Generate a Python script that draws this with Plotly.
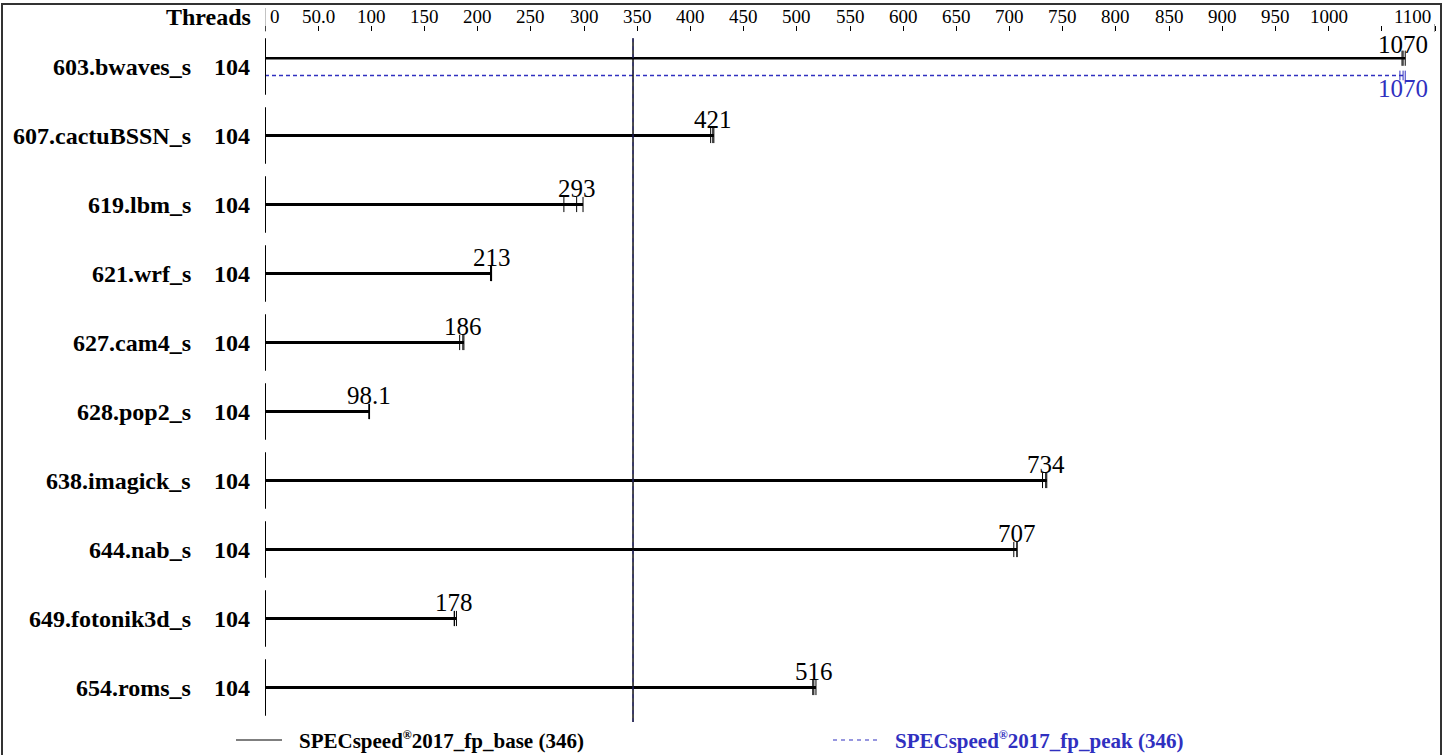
import plotly.graph_objects as go

# ---------------- data ----------------
benchmarks = ["603.bwaves_s", "607.cactuBSSN_s", "619.lbm_s", "621.wrf_s", "627.cam4_s",
              "628.pop2_s", "638.imagick_s", "644.nab_s", "649.fotonik3d_s", "654.roms_s"]
threads = [104, 104, 104, 104, 104, 104, 104, 104, 104, 104]
base_ratio = [1070, 421, 293, 213, 186, 98.1, 734, 707, 178, 516]
base_label = ["1070", "421", "293", "213", "186", "98.1", "734", "707", "178", "516"]
base_runs = [[1069, 1070, 1072], [419, 421, 422], [281, 293, 299], [212, 213, 213],
             [183, 186, 187], [97.6, 98.1, 98.3], [731, 734, 735], [704, 707, 707],
             [178, 178, 180], [515, 516, 518]]
peak_ratio = [1070, None, None, None, None, None, None, None, None, None]
peak_label = ["1070", None, None, None, None, None, None, None, None, None]
peak_runs = [[1067, 1070, 1072], None, None, None, None, None, None, None, None, None]
base_overall = 346
peak_overall = 346
tick_vals = [0, 50, 100, 150, 200, 250, 300, 350, 400, 450, 500, 550, 600, 650, 700,
             750, 800, 850, 900, 950, 1000, 1050, 1100]
tick_text = ["0", "50.0", "100", "150", "200", "250", "300", "350", "400", "450", "500",
             "550", "600", "650", "700", "750", "800", "850", "900", "950", "1000", "", "1100"]
REG = "<sup><span style='font-size:12px'>®</span></sup>"
legend_base = "SPECspeed" + REG + "2017_fp_base (346)"
legend_peak = "SPECspeed" + REG + "2017_fp_peak (346)"

# ---------------- style ----------------
FONT = "Liberation Serif"
BLACK = "#000000"
BLUE = "#3030c0"
W, H = 1450, 755
ML, MR, MT, MB = 265, 15, 32, 33
PW = W - ML - MR
PH = H - MT - MB


def px_x(p):
    return (p - ML) / PW


def px_y(p):
    return (H - MB - p) / PH


fig = go.Figure()
shapes = []
annotations = []

for i, name in enumerate(benchmarks):
    has_peak = peak_ratio[i] is not None
    yb = i - 0.12 if has_peak else i
    # row axis segment
    shapes.append(dict(type="line", xref="x", yref="y", x0=0, x1=0, y0=i - 0.41, y1=i + 0.41,
                       line=dict(color=BLACK, width=2)))
    # base bar
    fig.add_trace(go.Scatter(x=[0, max(base_runs[i])], y=[yb, yb], mode="lines",
                             line=dict(color=BLACK, width=2.5 if has_peak else 3),
                             hoverinfo="skip", showlegend=False))
    for r in base_runs[i]:
        shapes.append(dict(type="line", xref="x", yref="y", x0=r, x1=r, y0=yb - 0.11, y1=yb + 0.11,
                           line=dict(color=BLACK, width=1)))
    annotations.append(dict(x=base_ratio[i], y=yb, xref="x", yref="y", text=base_label[i],
                            showarrow=False, yshift=14 if has_peak else 16,
                            font=dict(family=FONT, size=25, color=BLACK)))
    if has_peak:
        yp = i + 0.13
        fig.add_trace(go.Scatter(x=[0, max(peak_runs[i])], y=[yp, yp], mode="lines",
                                 line=dict(color=BLUE, width=1.6, dash="4px,3px"),
                                 hoverinfo="skip", showlegend=False))
        for r in peak_runs[i]:
            shapes.append(dict(type="line", xref="x", yref="y", x0=r, x1=r, y0=yp - 0.07, y1=yp + 0.07,
                               line=dict(color=BLUE, width=1)))
        annotations.append(dict(x=peak_ratio[i], y=yp, xref="x", yref="y", text=peak_label[i],
                                showarrow=False, yshift=-13,
                                font=dict(family=FONT, size=25, color=BLUE)))
    # labels
    annotations.append(dict(x=0, y=i, xref="x", yref="y", text="<b>" + name + "</b>",
                            showarrow=False, xanchor="right", xshift=-72,
                            font=dict(family=FONT, size=24, color=BLACK)))
    annotations.append(dict(x=0, y=i, xref="x", yref="y", text="<b>" + str(threads[i]) + "</b>",
                            showarrow=False, xanchor="right", xshift=-13,
                            font=dict(family=FONT, size=24, color=BLACK)))

# overall reference line
shapes.append(dict(type="line", xref="x", yref="y", x0=base_overall, x1=base_overall,
                   y0=-0.41, y1=9.5, line=dict(color=BLACK, width=1.4)))
shapes.append(dict(type="line", xref="x", yref="y", x0=peak_overall, x1=peak_overall,
                   y0=-0.41, y1=9.5, line=dict(color="#2a2a80", width=1, dash="4px,4px")))

# tick labels
for v, t in zip(tick_vals, tick_text):
    if not t:
        continue
    if v == tick_vals[0]:
        anchor, shift = "left", 3
    elif v == tick_vals[-1]:
        anchor, shift = "right", -2
    else:
        anchor, shift = "center", 0
    annotations.append(dict(x=v, y=1, xref="x", yref="paper", text=t, showarrow=False,
                            xanchor=anchor, xshift=shift, yanchor="middle", yshift=16,
                            font=dict(family=FONT, size=19, color=BLACK)))

annotations.append(dict(x=0, y=1, xref="x", yref="paper", text="<b>Threads</b>", showarrow=False,
                        xanchor="right", xshift=-12, yanchor="middle", yshift=15,
                        font=dict(family=FONT, size=24, color=BLACK)))

# legend
ly = px_y(740)
shapes.append(dict(type="line", xref="paper", yref="paper", x0=px_x(236), x1=px_x(282), y0=ly, y1=ly,
                   line=dict(color=BLACK, width=1.2)))
annotations.append(dict(x=px_x(297), y=ly, xref="paper", yref="paper", text="<b>" + legend_base + "</b>",
                        showarrow=False, xanchor="left", yanchor="middle",
                        font=dict(family=FONT, size=21, color=BLACK)))
shapes.append(dict(type="line", xref="paper", yref="paper", x0=px_x(833), x1=px_x(878), y0=ly, y1=ly,
                   line=dict(color=BLUE, width=1.2, dash="4px,4px")))
annotations.append(dict(x=px_x(893), y=ly, xref="paper", yref="paper", text="<b>" + legend_peak + "</b>",
                        showarrow=False, xanchor="left", yanchor="middle",
                        font=dict(family=FONT, size=21, color=BLUE)))

# outer frame
shapes.append(dict(type="rect", xref="paper", yref="paper", x0=px_x(2), x1=px_x(1441),
                   y0=px_y(770), y1=px_y(4), line=dict(color="#333333", width=2)))
# gray end ticks
shapes.append(dict(type="line", xref="x", yref="paper", x0=0, x1=0, y0=1, y1=px_y(8),
                   line=dict(color="#888888", width=1)))
shapes.append(dict(type="line", xref="x", yref="paper", x0=1100, x1=1100, y0=1, y1=px_y(24),
                   line=dict(color="#888888", width=1.5)))

fig.update_layout(
    width=W, height=H,
    margin=dict(l=ML, r=MR, t=MT, b=MB),
    paper_bgcolor="white", plot_bgcolor="white",
    xaxis=dict(range=[0, 1100], side="top", showgrid=False, zeroline=False, showline=False,
               ticks="outside", ticklen=5, tickwidth=1, tickcolor=BLACK,
               tickvals=tick_vals, showticklabels=False, fixedrange=True),
    yaxis=dict(range=[9.5, -0.5], visible=False, fixedrange=True),
    shapes=shapes, annotations=annotations, showlegend=False,
)

fig.write_html("out.html", config={"displayModeBar": False},
               post_script="document.body.style.margin='0';document.body.style.overflow='hidden';")
